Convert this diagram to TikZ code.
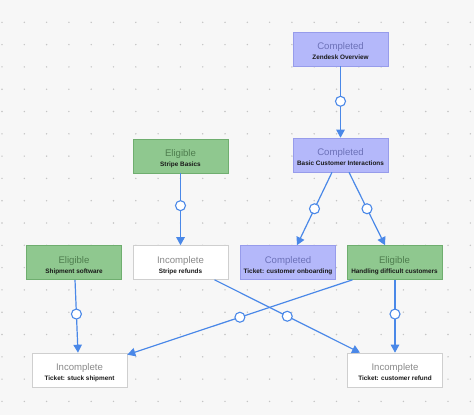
\documentclass[tikz,border=0pt]{standalone}
\usepackage{fontspec}
\setmainfont{Liberation Sans}
\usetikzlibrary{arrows.meta}
\definecolor{bgc}{HTML}{F7F7F7}
\definecolor{dotc}{HTML}{C4C4C4}
\definecolor{linec}{HTML}{4A88E8}
\definecolor{pfill}{HTML}{B4B8FA}
\definecolor{pdraw}{HTML}{979CEB}
\definecolor{ptext}{HTML}{6C71B8}
\definecolor{gfill}{HTML}{8FC88F}
\definecolor{gdraw}{HTML}{6FAE6F}
\definecolor{gtext}{HTML}{4E7D4E}
\definecolor{wdraw}{HTML}{CFCFCF}
\definecolor{wtext}{HTML}{8A8A8A}
\newcommand{\mycard}[5]{%
  \node[card,#2] (#1) at (#3) {};
  \node[ttl,#2 t] (#1-t) at ([yshift=-0.5pt]#1.center) {#4};
  \node[subt] (#1-s) at ([yshift=-10.8pt]#1.center) {#5};
}
\begin{document}
\begin{tikzpicture}[x=1pt,y=-1pt,
  card/.style={minimum width=95pt,minimum height=34pt,inner sep=0pt,line width=0.6pt},
  purple/.style={fill=pfill,draw=pdraw},
  green/.style={fill=gfill,draw=gdraw},
  white/.style={fill=white,draw=wdraw},
  purple t/.style={text=ptext},
  green t/.style={text=gtext},
  white t/.style={text=wtext},
  ttl/.style={anchor=base,inner sep=0pt,font=\fontsize{9.6}{11}\selectfont},
  subt/.style={anchor=base,inner sep=0pt,text=black!90,font=\fontsize{6.4}{7}\selectfont\bfseries},
  conn/.style={draw=linec,line width=1.2pt,-{Triangle[length=8pt,width=8.5pt]}},
  ring/.style={circle,draw=linec,fill=white,line width=1.1pt,minimum size=10pt,inner sep=0pt}
]
\fill[bgc] (0,0) rectangle (474,415);
\useasboundingbox (0,0) rectangle (474,415);
\foreach \i in {0,...,21} \foreach \j in {1,...,18} \fill[dotc] ({2+22.3*\i},{22.3*\j}) circle (0.8pt);

\mycard{zen}{purple}{340.5,49}{Completed}{Zendesk Overview}
\mycard{basic}{purple}{340.5,155}{Completed}{Basic Customer Interactions}
\mycard{stripe}{green}{180.5,156}{Eligible}{Stripe Basics}
\mycard{refunds}{white}{180.5,262.5}{Incomplete}{Stripe refunds}
\mycard{ship}{green}{74,262.5}{Eligible}{Shipment software}
\mycard{onboard}{purple}{288,262.5}{Completed}{Ticket: customer onboarding}
\mycard{handling}{green}{394.5,262.5}{Eligible}{Handling difficult customers}
\mycard{stuck}{white}{79.5,370}{Incomplete}{Ticket: stuck shipment}
\mycard{refund}{white}{395,370}{Incomplete}{Ticket: customer refund}

\draw[conn] (zen.south) -- node[ring,pos=0.49] (r1) {} (basic.north);
\draw[conn] (stripe.south) -- node[ring,pos=0.45] (r2) {} (refunds.north);
\draw[conn] ([xshift=-8.5pt]basic.south) -- node[ring] (r3) {} ([xshift=9pt]onboard.north);
\draw[conn] ([xshift=8.5pt]basic.south) -- node[ring] (r4) {} ([xshift=-9.5pt]handling.north);
\draw[conn] ([xshift=1pt]ship.south) -- node[ring,pos=0.47] (r5) {} ([xshift=-1.5pt]stuck.north);
\draw[conn] ([xshift=-42pt]handling.south) -- node[ring,pos=0.5] (r6) {} ([yshift=-2pt]stuck.north east);
\draw[conn] ([xshift=34pt]refunds.south) -- node[ring,pos=0.5] (r7) {} ([xshift=-35pt]refund.north);
\draw[conn] ([xshift=0.5pt]handling.south) -- node[ring,pos=0.47] (r8) {} (refund.north);
\end{tikzpicture}
\end{document}
